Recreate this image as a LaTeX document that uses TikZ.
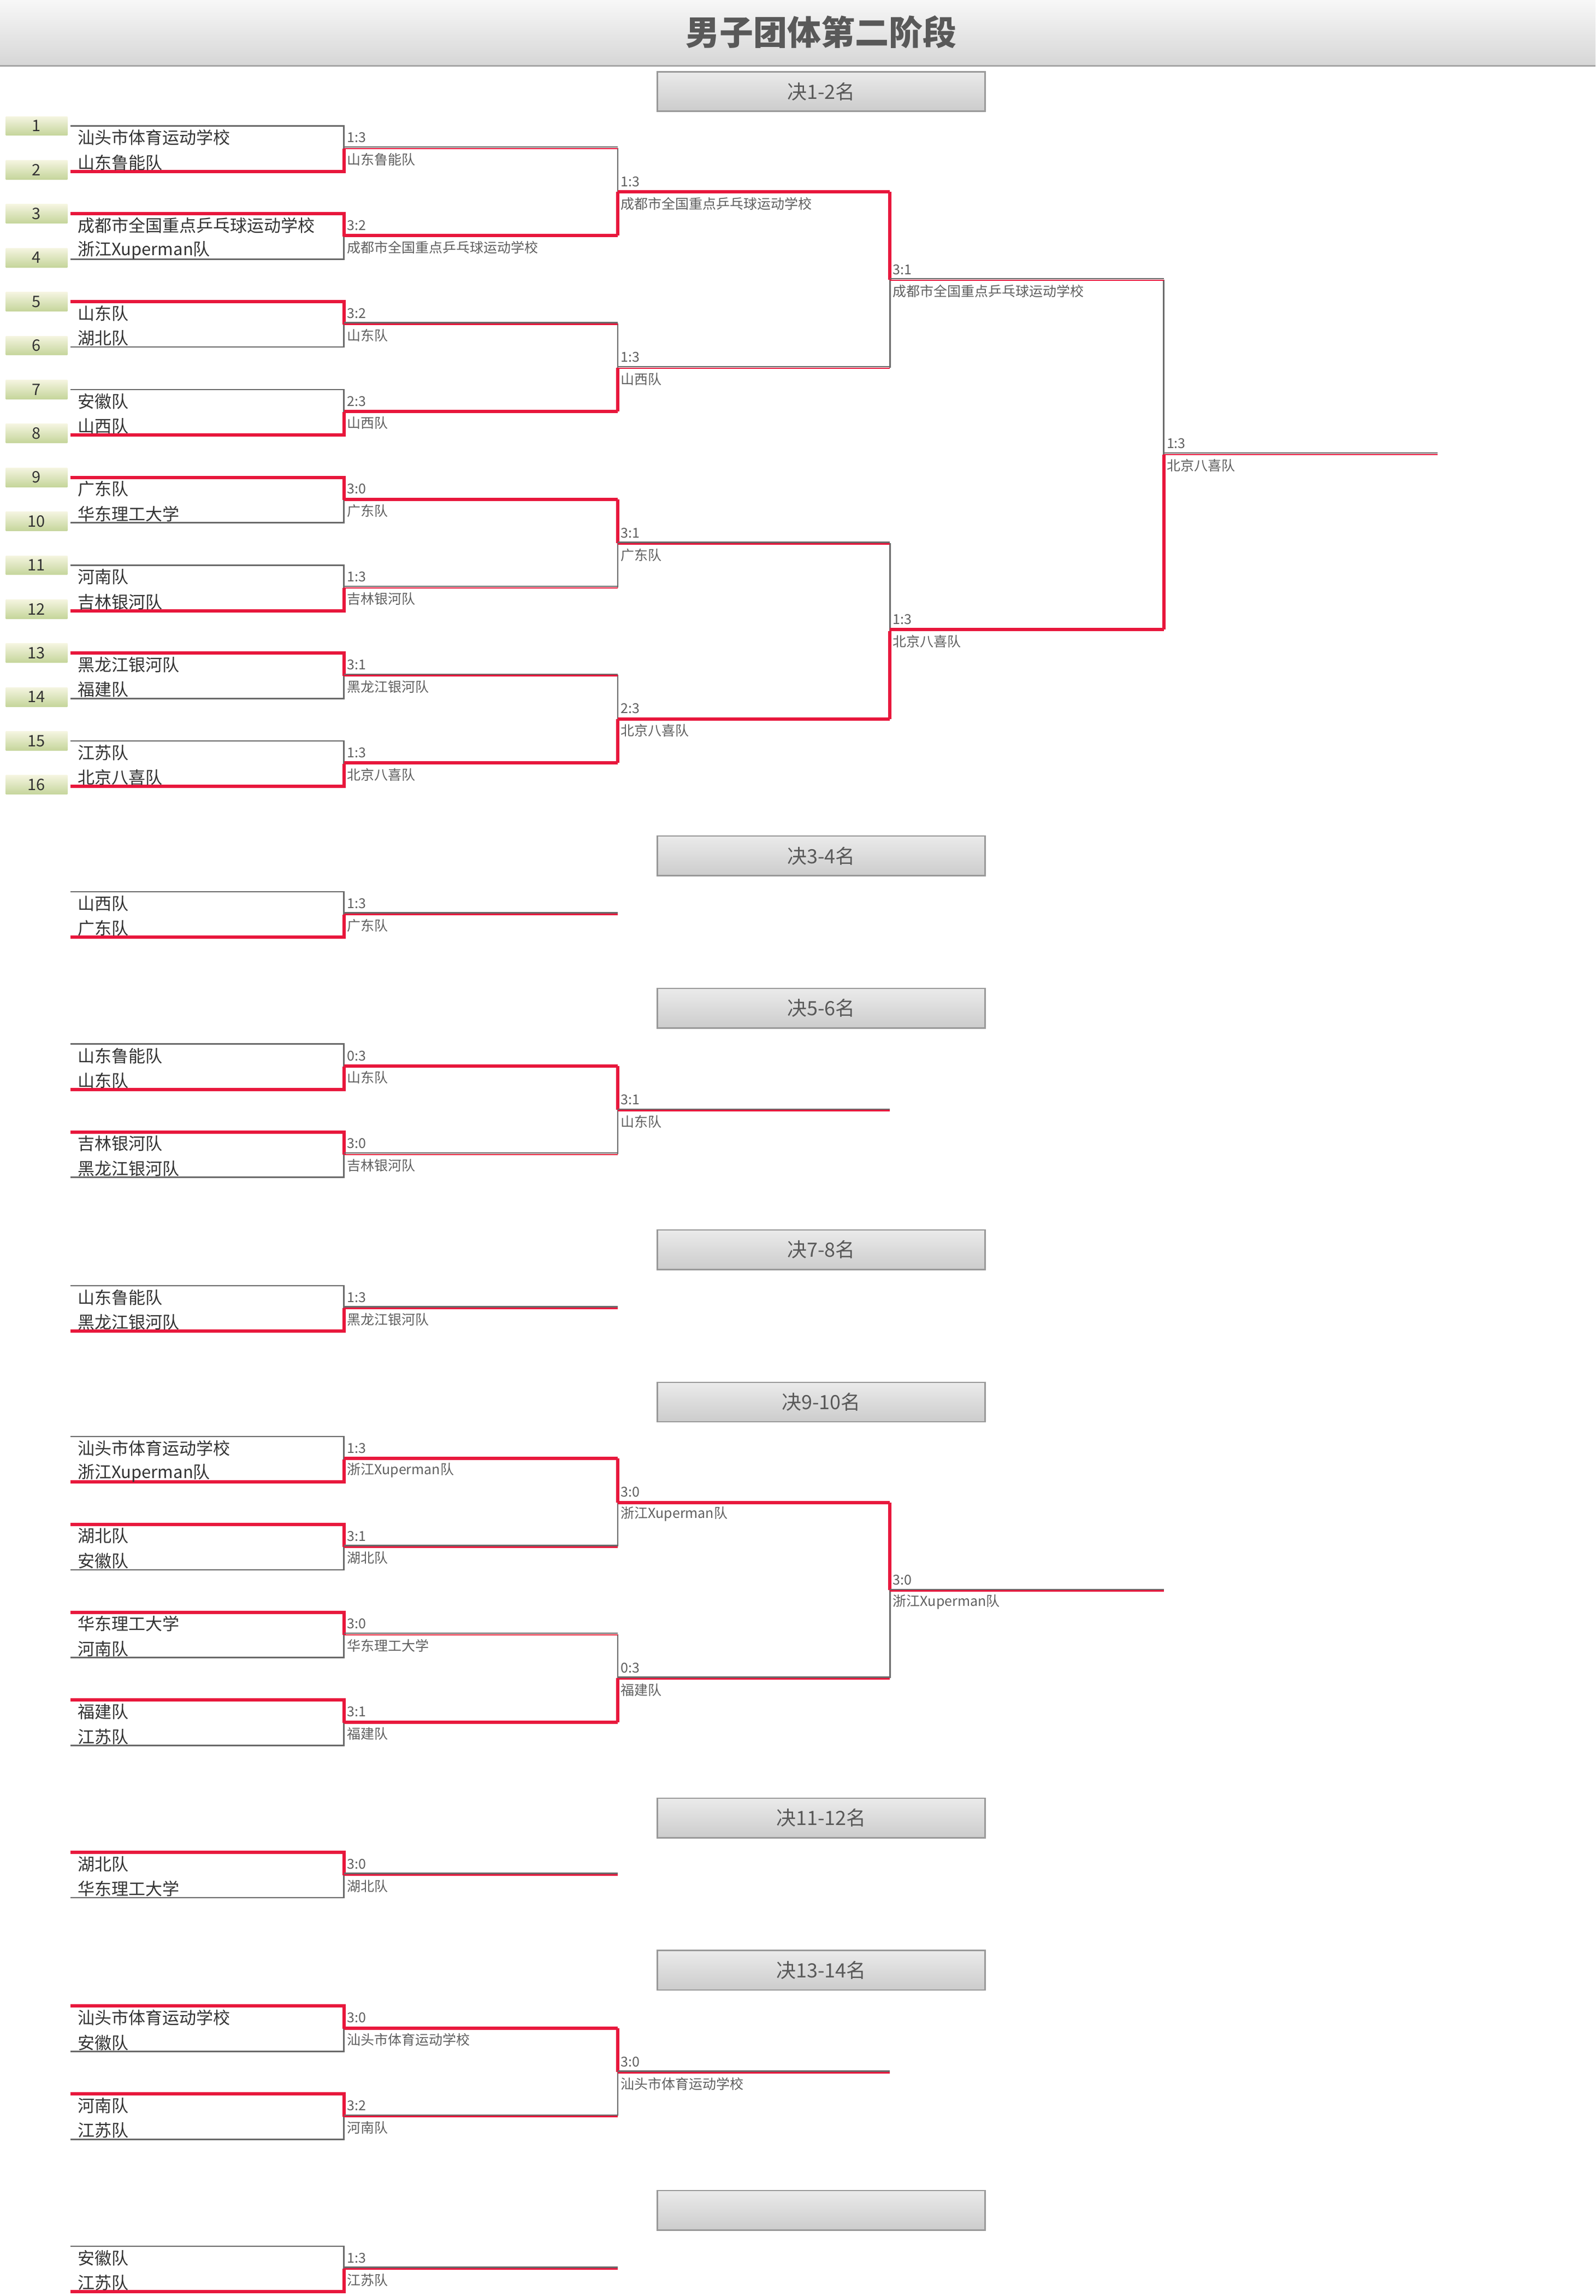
\documentclass[tikz,border=0pt]{standalone}
\usepackage{fontspec}
\setmainfont{Noto Sans CJK SC}
\definecolor{rd}{HTML}{E8173C}
\definecolor{gl}{HTML}{6A6A6A}
\definecolor{tx}{HTML}{333333}
\newcommand\fmatch[4]{%
  \draw[gline] (48,#1)--(235,#1)--(235,{#1+31})--(48,{#1+31});
  \ifnum#4=1 \draw[rline] (48,#1)--(235,#1)--(235,{#1+15.5});
  \else \draw[rline] (48,{#1+31})--(235,{#1+31})--(235,{#1+15.5}); \fi
  \node[team] at (53,{#1+8}) {#2};
  \node[team] at (53,{#1+25}) {#3};}
\newcommand\bout[6]{%
  \ifnum#6=1 \draw[rline] (#1,#3)--(#2,#3);
  \else \draw[gl,line width=2.4pt] (#1,{#3-0.6})--(#2,{#3-0.6}); \draw[rd,line width=2.6pt] (#1,{#3+0.5})--(#2,{#3+0.5}); \fi
  \node[score] at ({#1+2},{#3-7}) {#4};
  \node[score] at ({#1+2},{#3+8}) {#5};}
\newcommand\jn[4]{%
  \draw[gline] (#1,#2)--(#1,#3);
  \ifnum#4=1 \draw[rline] (#1,#2)--(#1,{(#2+#3)/2});
  \else \draw[rline] (#1,#3)--(#1,{(#2+#3)/2}); \fi}
\newcommand\hdr[2]{%
  \node[hbox] at (561,{#1+13.5}) {#2};}
\begin{document}
\begin{tikzpicture}[x=2.681pt,y=-2.681pt,
  gline/.style={gl,line width=2.6pt},
  rline/.style={rd,line width=6pt},
  team/.style={anchor=west,inner sep=0pt,text=tx,font=\fontsize{31}{31}\selectfont},
  score/.style={anchor=west,inner sep=0pt,text=gl!90!black,font=\fontsize{25}{25}\selectfont},
  hbox/.style={draw=black!40,line width=2.5pt,top color=black!8,bottom color=black!20,minimum width=224*2.681pt,minimum height=27*2.681pt,inner sep=0pt,text=black!65,font=\fontsize{36}{36}\selectfont},
  seed/.style={top color=olive!8!white,bottom color={rgb,255:red,197;green,213;blue,155},minimum width=42*2.681pt,minimum height=13*2.681pt,inner sep=0pt,text=tx,font=\fontsize{29}{29}\selectfont}]
\useasboundingbox (0,0) rectangle (1090,1568);
\fill[white] (0,0) rectangle (1090,1568);
% title bar
\shade[top color=black!3,bottom color=black!16] (0,0) rectangle (1090,45);
\draw[black!35,line width=2.5pt] (0,45)--(1090,45);
\node[text=black!65,font=\fontsize{62}{62}\selectfont\bfseries] (title) at (561,22) {男子团体第二阶段};
% section 1-2
\hdr{49}{决1-2名}
\foreach \k in {1,...,16} \node[seed] (s\k) at (25,{86+30*(\k-1)}) {\k};
\fmatch{86}{汕头市体育运动学校}{山东鲁能队}{2}
\fmatch{146}{成都市全国重点乒乓球运动学校}{浙江Xuperman队}{1}
\fmatch{206}{山东队}{湖北队}{1}
\fmatch{266}{安徽队}{山西队}{2}
\fmatch{326}{广东队}{华东理工大学}{1}
\fmatch{386}{河南队}{吉林银河队}{2}
\fmatch{446}{黑龙江银河队}{福建队}{1}
\fmatch{506}{江苏队}{北京八喜队}{2}
\jn{422}{101}{161}{2}\jn{422}{221}{281}{2}\jn{422}{341}{401}{1}\jn{422}{461}{521}{2}
\jn{608}{131}{251}{1}\jn{608}{371}{491}{2}
\jn{795}{191}{430}{2}
\bout{235}{422}{101}{1:3}{山东鲁能队}{0}
\bout{235}{422}{161}{3:2}{成都市全国重点乒乓球运动学校}{1}
\bout{235}{422}{221}{3:2}{山东队}{0}
\bout{235}{422}{281}{2:3}{山西队}{1}
\bout{235}{422}{341}{3:0}{广东队}{1}
\bout{235}{422}{401}{1:3}{吉林银河队}{0}
\bout{235}{422}{461}{3:1}{黑龙江银河队}{0}
\bout{235}{422}{521}{1:3}{北京八喜队}{1}
\bout{422}{608}{131}{1:3}{成都市全国重点乒乓球运动学校}{1}
\bout{422}{608}{251}{1:3}{山西队}{0}
\bout{422}{608}{371}{3:1}{广东队}{0}
\bout{422}{608}{491}{2:3}{北京八喜队}{1}
\bout{608}{795}{191}{3:1}{成都市全国重点乒乓球运动学校}{0}
\bout{608}{795}{430}{1:3}{北京八喜队}{1}
\bout{795}{982}{310}{1:3}{北京八喜队}{0}
% 3-4
\hdr{571}{决3-4名}
\fmatch{609}{山西队}{广东队}{2}
\bout{235}{422}{624}{1:3}{广东队}{0}
% 5-6
\hdr{675}{决5-6名}
\fmatch{713}{山东鲁能队}{山东队}{2}
\fmatch{773}{吉林银河队}{黑龙江银河队}{1}
\jn{422}{728}{788}{1}
\bout{235}{422}{728}{0:3}{山东队}{1}
\bout{235}{422}{788}{3:0}{吉林银河队}{0}
\bout{422}{608}{758}{3:1}{山东队}{0}
% 7-8
\hdr{840}{决7-8名}
\fmatch{878}{山东鲁能队}{黑龙江银河队}{2}
\bout{235}{422}{893}{1:3}{黑龙江银河队}{0}
% 9-10
\hdr{944}{决9-10名}
\fmatch{981}{汕头市体育运动学校}{浙江Xuperman队}{2}
\fmatch{1041}{湖北队}{安徽队}{1}
\fmatch{1101}{华东理工大学}{河南队}{1}
\fmatch{1161}{福建队}{江苏队}{1}
\jn{422}{996}{1056}{1}\jn{422}{1116}{1176}{2}\jn{608}{1026}{1146}{1}
\bout{235}{422}{996}{1:3}{浙江Xuperman队}{1}
\bout{235}{422}{1056}{3:1}{湖北队}{0}
\bout{235}{422}{1116}{3:0}{华东理工大学}{0}
\bout{235}{422}{1176}{3:1}{福建队}{1}
\bout{422}{608}{1026}{3:0}{浙江Xuperman队}{1}
\bout{422}{608}{1146}{0:3}{福建队}{0}
\bout{608}{795}{1086}{3:0}{浙江Xuperman队}{0}
% 11-12
\hdr{1228}{决11-12名}
\fmatch{1265}{湖北队}{华东理工大学}{1}
\bout{235}{422}{1280}{3:0}{湖北队}{0}
% 13-14
\hdr{1332}{决13-14名}
\fmatch{1370}{汕头市体育运动学校}{安徽队}{1}
\fmatch{1430}{河南队}{江苏队}{1}
\jn{422}{1385}{1445}{1}
\bout{235}{422}{1385}{3:0}{汕头市体育运动学校}{1}
\bout{235}{422}{1445}{3:2}{河南队}{0}
\bout{422}{608}{1415}{3:0}{汕头市体育运动学校}{0}
% last
\hdr{1496}{}
\fmatch{1534}{安徽队}{江苏队}{2}
\bout{235}{422}{1549}{1:3}{江苏队}{0}
\end{tikzpicture}
\end{document}
